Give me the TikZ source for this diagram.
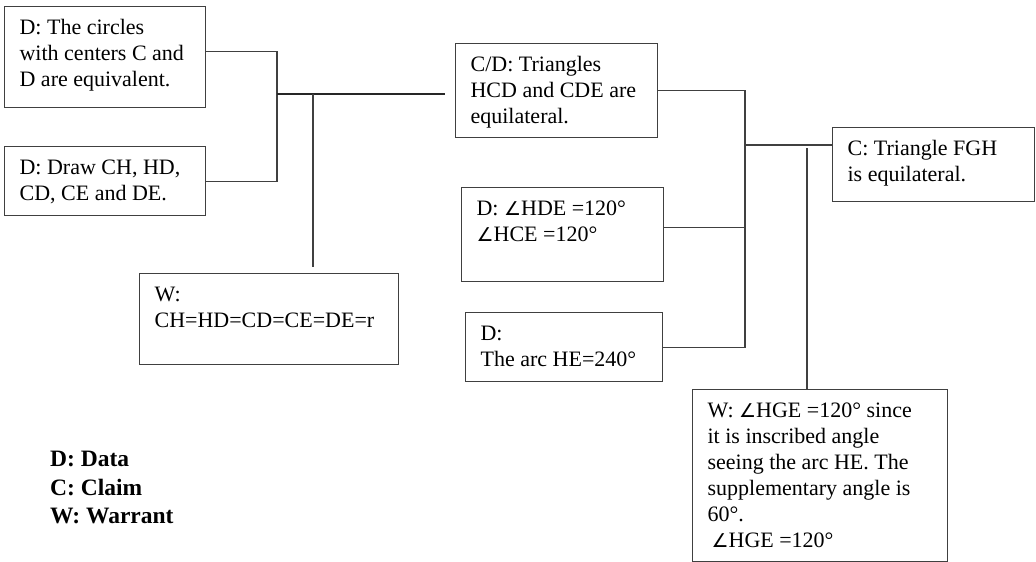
\documentclass[tikz,border=0pt]{standalone}
\usepackage{fontspec}
\usepackage{tikz}
\usetikzlibrary{positioning, calc}
\setmainfont{Liberation Serif}
\newfontfamily\symfont{DejaVu Sans}
\definecolor{boxgray}{RGB}{64, 64, 64}
\newcommand{\boxtext}[3]{\parbox[t][#2][t]{#1}{\raggedright\strut#3}}
\newcommand{\ang}{{\symfont\fontsize{19}{26}\selectfont ∠}}

\begin{document}
\begin{tikzpicture}[
    x=1pt, y=-1pt,
    box/.style={rectangle, draw=boxgray, line width=1.2pt, anchor=north west, inner xsep=15pt, inner ysep=10pt, font=\fontsize{22}{26}\selectfont},
    link/.style={draw=boxgray, line width=1.2pt},
    mainlink/.style={draw=black!85, line width=2pt}
]
\useasboundingbox (0,0) rectangle (1036,562);

% Data on the left
\node[box] (circles) at (4,6) {\boxtext{171pt}{81pt}{D: The circles\\with centers C and\\D are equivalent.}};
\node[box] (draw) at (4,146) {\boxtext{171pt}{49pt}{D: Draw CH, HD,\\CD, CE and DE.}};
\node[box] (radius) at (139,273) {\boxtext{229pt}{71pt}{W:\\CH=HD=CD=CE=DE=r}};

% Middle column
\node[box] (triangles) at (455,43) {\boxtext{172pt}{74pt}{C/D: Triangles\\HCD and CDE are\\equilateral.}};
\node[box] (angles) at (461,187) {\boxtext{172pt}{74pt}{D: \ang HDE =120°\\\ang HCE =120°}};
\node[box] (arc) at (465,312) {\boxtext{167pt}{49pt}{D:\\The arc HE=240°}};

% Claim and warrant on the right
\node[box] (claim) at (832,127) {\boxtext{172pt}{54pt}{C: Triangle FGH\\is equilateral.}};
\node[box] (inscribed) at (692,389) {\boxtext{225pt}{152pt}{W: \ang HGE =120° since\\it is inscribed angle\\seeing the arc HE. The\\supplementary angle is\\60°.\\\hspace{4pt}\ang HGE =120°}};

% Legend
\node[anchor=north west, inner sep=0pt, align=left, font=\fontsize{23.5}{28.5}\selectfont\bfseries] (legend) at (50,451) {D: Data\\C: Claim\\W: Warrant};

% Junctions
\coordinate (join1) at (277,94);
\coordinate (join2) at (313,94);
\coordinate (join3) at (745,145);
\coordinate (join4) at (807,145);

% Connectors
\draw[link] ([yshift=6pt]circles.east) -| (join1) |- (draw.east);
\draw[mainlink, shorten >=10pt] (join1) -- (join1 -| triangles.west);
\draw[link, shorten >=6pt] (join2) -- (join2 |- radius.north);
\draw[link] (triangles.east) -| (join3) -- (join3 -| claim.west);
\draw[link] ([yshift=7pt]angles.east) -- ([yshift=7pt]angles.east -| join3);
\draw[link] (arc.east) -| (join3);
\draw[link, shorten <=3pt] (join4) -- (join4 |- inscribed.north);

\end{tikzpicture}
\end{document}
